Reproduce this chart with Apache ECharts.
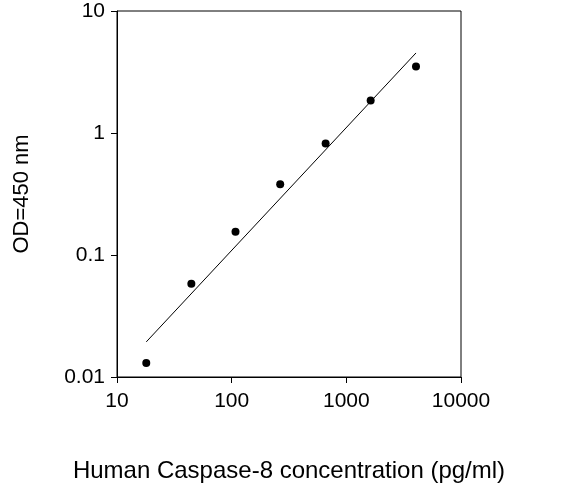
<!DOCTYPE html>
<html><head><meta charset="utf-8">
<script src="https://cdn.jsdelivr.net/npm/echarts@6/dist/echarts.min.js"></script>
<style>html,body{margin:0;padding:0;background:#fff}#c{width:584px;height:494px}</style>
</head><body><div id="c"></div>
<script>
const conc = [18, 44.5, 108, 265, 660, 1630, 4050];
const od = [0.013, 0.058, 0.155, 0.38, 0.82, 1.85, 3.5];
const fitX = [18, 4050];
const fitY = [0.0194, 4.53];
const xTicks = [10, 100, 1000, 10000];
const yTicks = [0.01, 0.1, 1, 10];
const font = 'Arial, "Liberation Sans", sans-serif';
const chart = echarts.init(document.getElementById('c'));
chart.setOption({
  animation: false,
  grid: {left: 117, right: 123, top: 11, bottom: 117, show: true, borderColor: '#000', borderWidth: 1},
  xAxis: {type: 'log', logBase: 10, min: 10, max: 10000,
    name: 'Human Caspase-8 concentration (pg/ml)', nameLocation: 'middle', nameGap: 82,
    nameTextStyle: {fontSize: 24, color: '#000', fontFamily: font},
    axisLine: {lineStyle: {color: '#000'}}, axisTick: {inside: false, length: 6, lineStyle: {color: '#000'}},
    axisLabel: {fontSize: 21, color: '#000', fontFamily: font, margin: 14, formatter: v => String(Math.round(v))},
    splitLine: {show: false}},
  yAxis: {type: 'log', logBase: 10, min: 0.01, max: 10,
    name: 'OD=450 nm', nameLocation: 'middle', nameGap: 84,
    nameTextStyle: {fontSize: 22, color: '#000', fontFamily: font},
    axisLine: {lineStyle: {color: '#000'}}, axisTick: {length: 6, lineStyle: {color: '#000'}},
    axisLabel: {fontSize: 21, color: '#000', fontFamily: font, margin: 12, formatter: v => String(+v.toPrecision(2))},
    splitLine: {show: false}},
  series: [
    {type: 'scatter', data: conc.map((x, i) => [x, od[i]]), symbolSize: 8, itemStyle: {color: '#000', opacity: 1}},
    {type: 'line', data: fitX.map((x, i) => [x, fitY[i]]), symbol: 'none', lineStyle: {color: '#000', width: 1}}
  ]
});
</script></body></html>
